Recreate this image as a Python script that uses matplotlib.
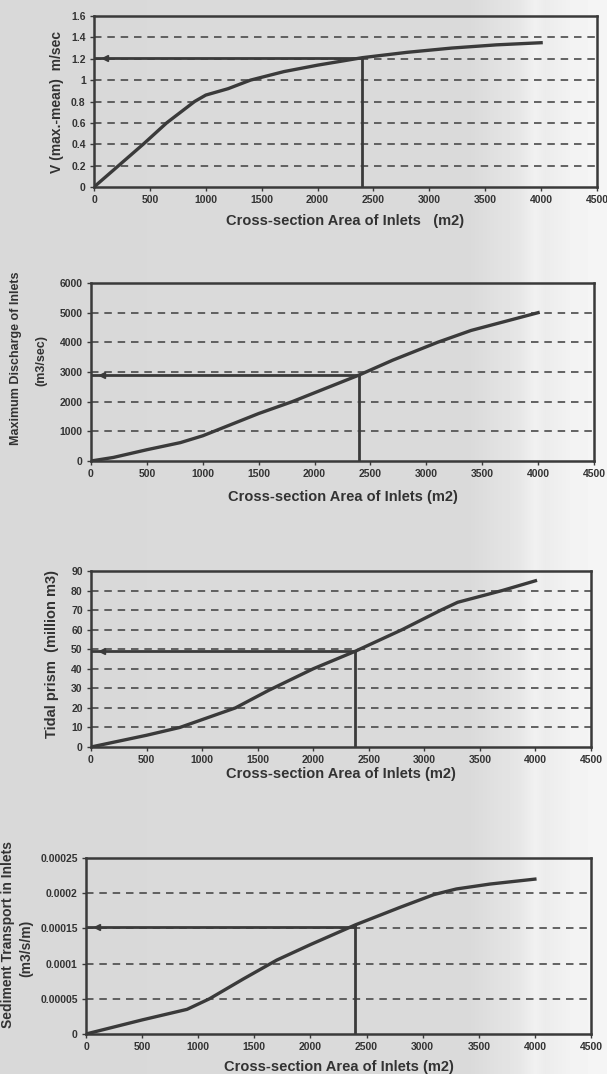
import numpy as np
import matplotlib.pyplot as plt

plt.rcParams['font.family'] = ['Liberation Sans', 'DejaVu Sans']
plt.rcParams['font.weight'] = 'bold'

# --- data ---
area_v = [0, 440, 650, 900, 1000, 1200, 1400, 1700, 2000, 2400, 2800, 3200, 3600, 4000]
velocity = [0, 0.4, 0.6, 0.8, 0.86, 0.92, 1.0, 1.08, 1.14, 1.21, 1.26, 1.30, 1.33, 1.35]

area_q = [0, 200, 500, 800, 1000, 1200, 1500, 1800, 2100, 2400, 2700, 3100, 3400, 3700, 4000]
discharge = [0, 120, 380, 620, 850, 1150, 1600, 2000, 2450, 2900, 3400, 4000, 4400, 4700, 5000]

area_p = [0, 500, 800, 1000, 1300, 1600, 2000, 2380, 2800, 3150, 3300, 3700, 4000]
prism = [0, 6, 10, 14, 20, 29, 40, 49, 60, 70, 74, 80, 85]

area_s = [0, 500, 900, 1100, 1400, 1700, 2000, 2400, 2800, 3100, 3300, 3600, 4000]
sediment = [0, 2e-5, 3.5e-5, 5e-5, 7.8e-5, 1.05e-4, 1.27e-4, 1.55e-4, 1.8e-4, 1.98e-4, 2.06e-4, 2.13e-4, 2.2e-4]

# design point read on each chart (inlet area, value)
design_area = [2400, 2400, 2380, 2400]
design_value = [1.21, 2900, 49, 0.000152]

x_ticks = [0, 500, 1000, 1500, 2000, 2500, 3000, 3500, 4000, 4500]

v_ticks = [0, 0.2, 0.4, 0.6, 0.8, 1.0, 1.2, 1.4, 1.6]
v_labels = ['0', '0.2', '0.4', '0.6', '0.8', '1', '1.2', '1.4', '1.6']
q_ticks = [0, 1000, 2000, 3000, 4000, 5000, 6000]
q_labels = ['0', '1000', '2000', '3000', '4000', '5000', '6000']
p_ticks = [0, 10, 20, 30, 40, 50, 60, 70, 80, 90]
p_labels = ['0', '10', '20', '30', '40', '50', '60', '70', '80', '90']
s_ticks = [0, 0.00005, 0.0001, 0.00015, 0.0002, 0.00025]
s_labels = ['0', '0.00005', '0.0001', '0.00015', '0.0002', '0.00025']

W, H = 607, 1074
INK = '#3a3a3a'
TXT = '#333333'

fig = plt.figure(figsize=(W / 100, H / 100), dpi=100)

# scanned paper background: grey with a lighter strip on the right
bg = fig.add_axes([0, 0, 1, 1], zorder=-5)
cols = np.arange(W)
shade = np.interp(cols, [0, 470, 520, 535, 545, 555, 575, 607],
                  [0.85, 0.855, 0.905, 0.945, 0.925, 0.935, 0.955, 0.96])
bg.imshow(np.tile(shade, (10, 1)), cmap='gray', vmin=0, vmax=1,
          aspect='auto', extent=[0, 1, 0, 1])
bg.axis('off')


def panel(box, x, y, yt, ylab, xlab, xlab_y, ylab_lines, ylab_size, d_area, d_val):
    l, r, t, b = box
    ax = fig.add_axes([l / W, (H - b) / H, (r - l) / W, (b - t) / H])
    ax.set_facecolor('none')
    ax.set_xlim(0, 4500)
    ax.set_ylim(yt[0], yt[-1])
    ax.set_xticks(x_ticks)
    ax.set_xticklabels([str(v) for v in x_ticks])
    ax.set_yticks(yt)
    ax.set_yticklabels(ylab)
    ax.tick_params(labelsize=7.5, length=3, width=1, color=INK, labelcolor=TXT, pad=3)
    for s in ax.spines.values():
        s.set_linewidth(1.8)
        s.set_color(INK)
    for v in yt[1:-1]:
        ax.axhline(v, color='#4a4a4a', lw=1.2, dashes=(4.5, 3.5), zorder=1)
    ax.plot(x, y, color=INK, lw=2.4, zorder=3)
    ax.plot([0, d_area], [d_val, d_val], color=INK, lw=2.0, zorder=3)
    ax.plot([d_area, d_area], [yt[0], d_val], color=INK, lw=2.0, zorder=3)
    ax.plot([100], [d_val], marker='<', ms=4, color=INK, zorder=4)
    # axis titles placed at their pixel positions
    fig.text((l + r) / 2 / W, 1 - xlab_y / H, xlab, ha='center', va='center',
             fontsize=10.5, color=TXT)
    for lx, ly, txt in ylab_lines:
        fig.text(lx / W, 1 - ly / H, txt, rotation=90, ha='center', va='center',
                 fontsize=ylab_size, color=TXT)
    return ax


panel((94, 597, 16, 187), area_v, velocity, v_ticks, v_labels,
      'Cross-section Area of Inlets   (m2)', 221,
      [(57, 102, 'V (max.-mean)  m/sec')], 10, design_area[0], design_value[0])

panel((91, 594, 283, 461), area_q, discharge, q_ticks, q_labels,
      'Cross-section Area of Inlets (m2)', 497,
      [(16, 358, 'Maximum Discharge of Inlets'), (41, 360, '(m3/sec)')], 9,
      design_area[1], design_value[1])

panel((91, 591, 571, 747), area_p, prism, p_ticks, p_labels,
      'Cross-section Area of Inlets (m2)', 774,
      [(52, 654, 'Tidal prism  (million m3)')], 10.5, design_area[2], design_value[2])

panel((86, 591, 858, 1034), area_s, sediment, s_ticks, s_labels,
      'Cross-section Area of Inlets (m2)', 1067,
      [(8, 935, 'Sediment Transport in Inlets'), (26, 948, '(m3/s/m)')], 10,
      design_area[3], design_value[3])

fig.savefig('out.png', dpi=100)
